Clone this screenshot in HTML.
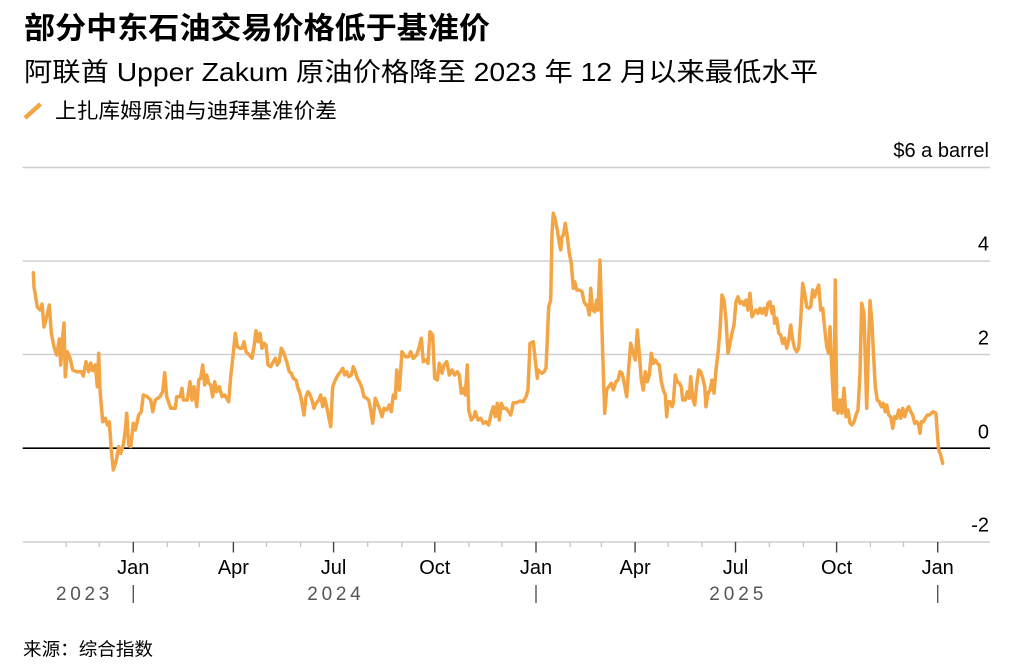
<!DOCTYPE html>
<html>
<head>
<meta charset="utf-8">
<style>
  html, body { margin: 0; padding: 0; background: #fff; }
  svg { display: block; }
  .cjk { font-family: "Liberation Sans", "Noto Sans CJK SC", sans-serif; }
  .lat { font-family: "Liberation Sans", sans-serif; }
</style>
</head>
<body>
<svg width="1014" height="672" viewBox="0 0 1014 672" xmlns="http://www.w3.org/2000/svg">
  <rect x="0" y="0" width="1014" height="672" fill="#fff"/>

  <!-- Titles -->
  <text class="cjk" x="24" y="38.5" font-size="30" font-weight="bold" fill="#000" textLength="466" lengthAdjust="spacingAndGlyphs">部分中东石油交易价格低于基准价</text>
  <text class="cjk" x="24" y="81" font-size="26" fill="#000" textLength="794" lengthAdjust="spacingAndGlyphs">阿联酋 Upper Zakum 原油价格降至 2023 年 12 月以来最低水平</text>

  <!-- Legend -->
  <line x1="25" y1="118" x2="40.5" y2="104" stroke="#F3A545" stroke-width="4.5"/>
  <text class="cjk" x="55" y="118" font-size="21" fill="#000" textLength="282" lengthAdjust="spacingAndGlyphs">上扎库姆原油与迪拜基准价差</text>

  <!-- Gridlines -->
  <g stroke="#cfcfcf" stroke-width="1.4">
    <line x1="22.7" y1="167.5" x2="990" y2="167.5"/>
    <line x1="22.7" y1="261" x2="990" y2="261"/>
    <line x1="22.7" y1="354.5" x2="990" y2="354.5"/>
    <line x1="22.7" y1="542" x2="990" y2="542"/>
  </g>
  <line x1="22.7" y1="448.2" x2="990" y2="448.2" stroke="#000" stroke-width="1.7"/>

  <!-- Y labels -->
  <g class="lat" font-size="20" fill="#000" text-anchor="end">
    <text x="989" y="157">$6 a barrel</text>
    <text x="989" y="250.7">4</text>
    <text x="989" y="344.3">2</text>
    <text x="989" y="438.5">0</text>
    <text x="989" y="531.5">-2</text>
  </g>

  <!-- Minor ticks -->
  <g stroke="#c4c4c4" stroke-width="1.3">
    <line x1="66.2" y1="542" x2="66.2" y2="547"/>
    <line x1="99.2" y1="542" x2="99.2" y2="547"/>
    <line x1="167.4" y1="542" x2="167.4" y2="547"/>
    <line x1="199.3" y1="542" x2="199.3" y2="547"/>
    <line x1="266.5" y1="542" x2="266.5" y2="547"/>
    <line x1="300.6" y1="542" x2="300.6" y2="547"/>
    <line x1="367.7" y1="542" x2="367.7" y2="547"/>
    <line x1="401.8" y1="542" x2="401.8" y2="547"/>
    <line x1="468.9" y1="542" x2="468.9" y2="547"/>
    <line x1="501.9" y1="542" x2="501.9" y2="547"/>
    <line x1="570.2" y1="542" x2="570.2" y2="547"/>
    <line x1="601.3" y1="542" x2="601.3" y2="547"/>
    <line x1="668.2" y1="542" x2="668.2" y2="547"/>
    <line x1="702" y1="542" x2="702" y2="547"/>
    <line x1="769.3" y1="542" x2="769.3" y2="547"/>
    <line x1="803.4" y1="542" x2="803.4" y2="547"/>
    <line x1="870.4" y1="542" x2="870.4" y2="547"/>
    <line x1="903.5" y1="542" x2="903.5" y2="547"/>
  </g>
  <!-- Major ticks -->
  <g stroke="#444" stroke-width="1.4">
    <line x1="133.3" y1="542" x2="133.3" y2="552.5"/>
    <line x1="233.4" y1="542" x2="233.4" y2="552.5"/>
    <line x1="333.6" y1="542" x2="333.6" y2="552.5"/>
    <line x1="434.8" y1="542" x2="434.8" y2="552.5"/>
    <line x1="536" y1="542" x2="536" y2="552.5"/>
    <line x1="635.1" y1="542" x2="635.1" y2="552.5"/>
    <line x1="735.5" y1="542" x2="735.5" y2="552.5"/>
    <line x1="836.6" y1="542" x2="836.6" y2="552.5"/>
    <line x1="937.7" y1="542" x2="937.7" y2="552.5"/>
  </g>

  <!-- Month labels -->
  <g class="lat" font-size="20" fill="#000" text-anchor="middle">
    <text x="133.3" y="574">Jan</text>
    <text x="233.4" y="574">Apr</text>
    <text x="333.6" y="574">Jul</text>
    <text x="434.8" y="574">Oct</text>
    <text x="536" y="574">Jan</text>
    <text x="635.1" y="574">Apr</text>
    <text x="735.5" y="574">Jul</text>
    <text x="836.6" y="574">Oct</text>
    <text x="937.7" y="574">Jan</text>
  </g>

  <!-- Year labels -->
  <g class="lat" font-size="19" fill="#555">
    <text x="56" y="600" textLength="53.3" lengthAdjust="spacing">2023</text>
    <text x="307.3" y="600" textLength="53.4" lengthAdjust="spacing">2024</text>
    <text x="709.3" y="600" textLength="54" lengthAdjust="spacing">2025</text>
  </g>
  <g stroke="#555" stroke-width="1.4">
    <line x1="133.3" y1="585" x2="133.3" y2="603"/>
    <line x1="536" y1="585" x2="536" y2="603"/>
    <line x1="937.7" y1="585" x2="937.7" y2="603"/>
  </g>

  <!-- Data line -->
  <polyline fill="none" stroke="#F3A545" stroke-width="3.5" stroke-linejoin="round" stroke-linecap="round" points="
33.3,272.7 34,286.7 37.3,307 40,310 42,304 44,327 46.7,316.7 49.3,305 51.3,333 54,346.7 56.7,355 59.3,339 60.7,365 62.7,336.7 64,323 65.3,376.7 67.3,351.7 70,358 72.7,370 76.7,371.7 81.3,371.7 83.3,376 86,361.7 88.7,371.7 90.7,363 92.7,370.7 95.3,365 97.3,386.7 98.7,353.3 100,390 102.7,421.7 105.3,418.3 107.3,425 109.3,421.7 111.3,450 113.3,470 116,461.7 118.7,446.7 120.7,453.3 123.3,445 125.3,430 126.7,413.3 128.7,445 130.7,446.7 133.3,423.3 135.3,430 138.7,415 141.3,411.7 143.3,395 147.3,396.7 150.7,400 152.7,411.7 155.3,400 160,396.7 162.7,391.7 164.7,372.7 166.7,396.7 170.7,408.3 175.3,408.3 176.7,396.7 180,396.7 182,388.3 183.3,400 187.3,400
190,381.7 192,400 194,386.7 196.7,406.7 198.7,380 200.7,378.3 202.7,365 204.7,385 206.7,375 208.7,383.3 210.7,385 212.7,396.7 214.7,381.7 216.7,391.7 219.3,386.7 222,396.7 224.7,395 226.7,398.3 228.7,401.7 230.7,376.7 233.3,353.3 235.3,333.3 237.3,346.7 240,348.3 242,348.3 244,341.7 246,351.7 249.3,355 252,358.3 254,346.7 256,330.7 258,341.7 260,333.3 262,348.3 264,343.3 266,345 268,365 270.7,366.7 273.3,361.7 275.3,358.3 277.3,365 279.3,361.7 281.3,348.3 283.3,351.7 286.7,361.7 289.3,371.7 291.3,373.3 293.3,378.3 296,380 298,388.3 300,393.3 302,403.3 304,415 306,396.7 308,391.7 310,395 312,400 314,408.3 316,403.3 318.7,400 320.7,395 322.7,406.7 324.7,398.3 326.7,406.7 328.7,416.7 330.7,426.7 332.7,386.7 335.3,380 338,375 340.7,371.7 342.7,368.3 344.7,375 346.7,371.7 348.7,376.7 351.3,375 353.3,366.7 355.3,371.7 357.3,378.3 360,383
362,388.3 364,396.7 366.7,398.3 368.7,400 370.7,410 372.7,423.3 375.3,398.3 377.3,403.3 380,410 382,416.7 384,408.3 386.7,410 389.3,405 391.3,411.7 393.3,395 395.3,398.3 396.7,370 399.3,390 402,351.7 405.3,356.7 408.7,356.7 410.7,351.7 413.3,358.3 416.7,355 419.3,346.7 421.3,338.3 423.3,361.7 426,360 428,363.3 430,331.7 432.7,335 434.7,378.3 437.3,380 439.3,363.3 442,373.3 444,365 446.7,361.7 449.3,375 452,370 454.7,375 457.3,371.7 459.3,375 461.3,393.3 463.3,388.3 465.3,395 467.3,365 468.7,410 471.3,420 474,416.7 475.3,411.7 478,420 480.7,418.3 483.3,423.3 486,421.7 488.7,425 491.3,413.3 493.3,406.7 495.3,416.7 497.3,403.3 499.3,420 501.3,403.3 503.3,408.3 506,408.3 508.7,411.7 510.7,415 513.3,402.7 516.7,402.7 520,401 523.3,401.7 526,396.7 528,390 530,343.3 533.3,341.7 535.3,360 537.3,378.3
538,370 540,371.7 542,373.3 544,371.7 546,368.3 547.3,340 548.7,306.7 550.7,300 552,233.3 553.3,213.3 555.3,220 557.3,230 559.3,243.3 560.7,250 562,236.7 563.3,235 565.3,223.3 567.3,236.7 569.3,253.3 571.3,263.3 573.3,288.3 574.7,281.7 576.7,290 579.3,290 582,291.7 584,301.7 586,305 587.3,305 589.3,315 590.7,288.3 592.7,310 594.7,311.7 596.7,300 598,310 600,260 602.7,353.3 604.7,413.3 606.7,390 608.7,386.7 611.3,383.3 613.3,390 616,381.7 618,380 620,371.7 622,373.3 624,381.7 626.7,396.7 628.7,368.3 630.7,343.3 633.3,353.3 635.3,360 637.3,330 639.3,353.3 641.3,380 643.3,390 645.3,371.7 647.3,381.7 649.3,375 651.3,353.3 653.3,363.3 655.3,360 657.3,363.3 659.3,365 661.3,381.7 663.3,390 665.3,395 666.7,416.7 668,401.7 670,401.7 672,406.7 673.3,403.3 675.3,375 677.3,381.7 679.3,383.3 681.3,386.7 682.7,400 685.3,400 687.3,391.7 689.3,398.3 690.7,376.7 692.7,398.3 694.7,405 696.7,385 698.7,370 700.7,371.7 702.7,378.3 704.7,386.7 706,406.7 708,393.3
710,390 712,380 714,393.3 716,370 718,353.3 720,330 722,295 724,300 726,320 728,353.3 730,343.3 732,333.3 734,325 736,301.7 738,296.7 740,303.3 742,301.7 744,305 746,300 748,310 750,293.3 752,316.7 754,313.3 756,310 758,313.3 760,308.3 762,313.3 764,308.3 766,315 768,303.3 770,301.7 772,313.3 773.3,306.7 774.7,323.3 776.7,318.3 778.7,333.3 780.7,335 782.7,343.3 784.7,338.3 786.7,348.3 788.7,340 790.7,325 792.7,340 794.7,348.3 796.7,351.7 798.7,348.3 800.7,320 802.7,283.3 804.7,293.3 806.7,306.7 808.7,308.3 810.7,306.7 812.7,290 814.7,296.7 816.7,290 818.7,285 820.7,310 822.7,308.3 824.7,328.3 826.7,346.7 828.7,353.3 830,326.7 832,373.3 834,410 835.3,280 836.7,410 838,413.3
840,400 842,413.3 844,388.3 846,416.7 848,410 850,423.3 852,425 854,421.7 856,415 858,410 860,373.3 861.7,303.3 864,313.3 866.7,408.3 868.7,340 870,300.7 872,323.3 873.3,350 875.3,386.7 877.3,400 879.3,401.7 881.3,406.7 883.3,403.3 885.3,411.7 886.7,405 888.7,415 890.7,416.7 892.7,428.3 894.7,416.7 896.7,418.3 898.7,410 900.7,418.3 902.7,408.3 904.7,416.7 906.7,410 908.7,406.7 910.7,411.7 912.7,415 914.7,423.3 916.7,421.7 918.7,425 920,433.3 921.3,421.7 923.3,421.7 925.3,418.3 927.3,415 929.3,415 931.3,413.3 933.3,411.7 936,413.3 937.3,433.3 938.7,450 940.7,455 942.7,463.3"/>

  <!-- Source -->
  <text class="cjk" x="23" y="655.5" font-size="18" fill="#000" textLength="130" lengthAdjust="spacingAndGlyphs">来源：综合指数</text>
</svg>
</body>
</html>
